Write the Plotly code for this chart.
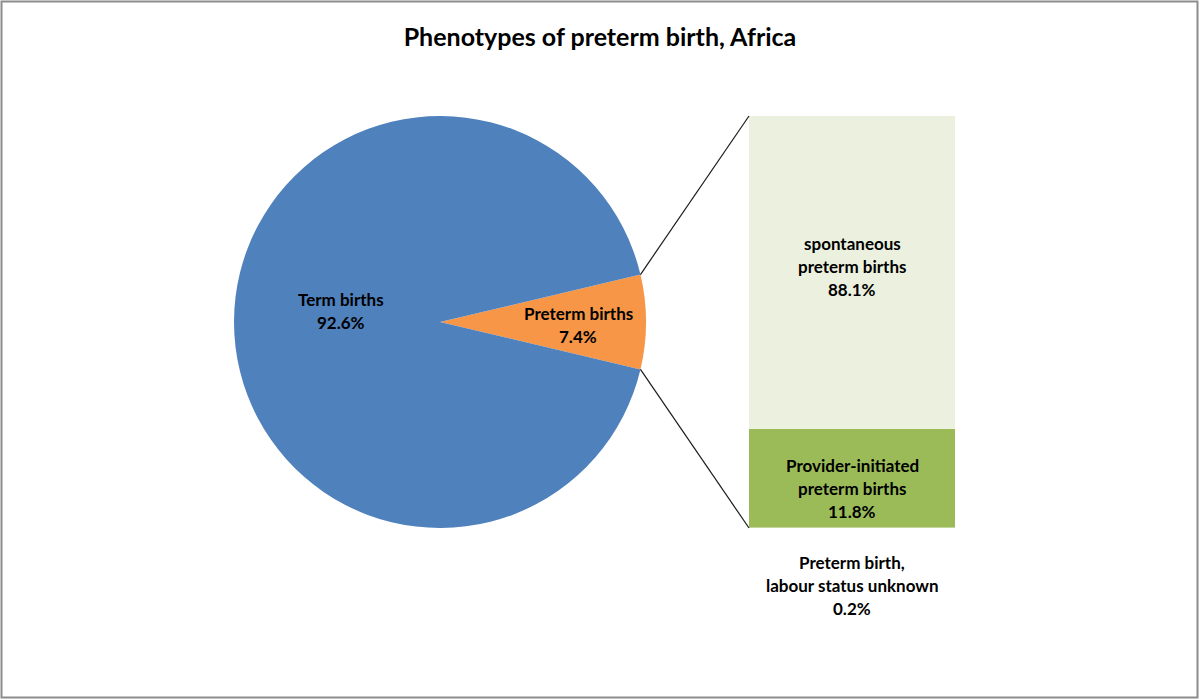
import math
import plotly.graph_objects as go

# ---- data ----
title_text = "Phenotypes of preterm birth, Africa"
pie_labels = ["Preterm births", "Term births"]
pie_values = [7.4, 92.6]
pie_colors = ["#F79646", "#4F81BD"]

bar_labels = ["Preterm birth,<br>labour status unknown",
              "Provider-initiated<br>preterm births",
              "spontaneous<br>preterm births"]
bar_pct_text = [0.2, 11.8, 88.1]          # percentages printed on the chart
bar_drawn_share = [0.2, 23.9, 75.9]       # segment heights as drawn in the bar
bar_colors = ["#C3D69B", "#9BBB59", "#EBF1DE"]

W, H = 1200, 700
FONT = "Lato"

# ---- layout geometry (pixels) ----
pie_cx, pie_cy, pie_r = 440, 322, 206
bar_x0, bar_x1, bar_top, bar_bot = 749, 955, 116, 528

def px(x):
    return x / W

def py(y):
    return 1 - y / H

fig = go.Figure()

slice_deg = pie_values[0] / sum(pie_values) * 360
fig.add_trace(go.Pie(
    labels=pie_labels, values=pie_values, sort=False, direction="clockwise",
    rotation=90 - slice_deg / 2,
    marker=dict(colors=pie_colors, line=dict(width=0)),
    textinfo="none", hoverinfo="label+percent", showlegend=False,
    domain=dict(x=[px(pie_cx - pie_r), px(pie_cx + pie_r)],
                y=[py(pie_cy + pie_r), py(pie_cy - pie_r)]),
))

for lab, share, col in zip(bar_labels, bar_drawn_share, bar_colors):
    fig.add_trace(go.Bar(
        x=[0], y=[share], marker=dict(color=col, line=dict(width=0)),
        width=1, name=lab.replace("<br>", " "), showlegend=False,
        xaxis="x", yaxis="y",
    ))

total = sum(bar_drawn_share)

# connector lines from slice edges to bar corners
half = math.radians(slice_deg / 2)
ex = pie_cx + pie_r * math.cos(half)
ey_top = pie_cy - pie_r * math.sin(half)
ey_bot = pie_cy + pie_r * math.sin(half)
shapes = [
    dict(type="line", xref="paper", yref="paper",
         x0=px(ex), y0=py(ey_top), x1=px(bar_x0), y1=py(bar_top),
         line=dict(color="#1a1a1a", width=1.2)),
    dict(type="line", xref="paper", yref="paper",
         x0=px(ex), y0=py(ey_bot), x1=px(bar_x0), y1=py(bar_bot),
         line=dict(color="#1a1a1a", width=1.2)),
    dict(type="rect", xref="paper", yref="paper",
         x0=px(1.5), y0=py(697.5), x1=px(1197.5), y1=py(1.5),
         line=dict(color="#8c8c8c", width=2), fillcolor="rgba(0,0,0,0)"),
]

annotations = []
LS = 23  # line spacing in px

def add_lines(x, y, xref, yref, lines, yshift0=0, size=17):
    n = len(lines)
    for i, t in enumerate(lines):
        annotations.append(dict(
            x=x, y=y, xref=xref, yref=yref, text="<b>%s</b>" % t,
            showarrow=False, xanchor="center", yanchor="middle",
            yshift=yshift0 - (i - (n - 1) / 2) * LS,
            font=dict(family=FONT, size=size, color="#000000")))

# pie labels
add_lines(px(341), py(311), "paper", "paper",
          [pie_labels[1], "%.1f%%" % pie_values[1]])
add_lines(px(578), py(325), "paper", "paper",
          [pie_labels[0], "%.1f%%" % pie_values[0]])

# bar labels
cum = 0
shifts = [-58, -11, 6]
for lab, share, pct, sh in zip(bar_labels, bar_drawn_share, bar_pct_text, shifts):
    mid = cum + share / 2
    cum += share
    add_lines(0, mid, "x", "y", lab.split("<br>") + ["%.1f%%" % pct], yshift0=sh)

fig.update_layout(
    width=W, height=H, margin=dict(l=0, r=0, t=0, b=0),
    paper_bgcolor="white", plot_bgcolor="rgba(0,0,0,0)",
    barmode="stack", bargap=0,
    title=dict(text="<b>%s</b>" % title_text, x=0.5, xanchor="center",
               y=py(37), yanchor="middle",
               font=dict(family=FONT, size=25, color="#000000")),
    xaxis=dict(domain=[px(bar_x0), px(bar_x1)], range=[-0.5, 0.5],
               visible=False, fixedrange=True),
    yaxis=dict(domain=[py(bar_bot), py(bar_top)], range=[0, total],
               visible=False, fixedrange=True),
    shapes=shapes, annotations=annotations,
)

fig.write_html("out.html", config={"displayModeBar": False},
               post_script="document.body.style.margin='0';document.body.style.overflow='hidden';")
